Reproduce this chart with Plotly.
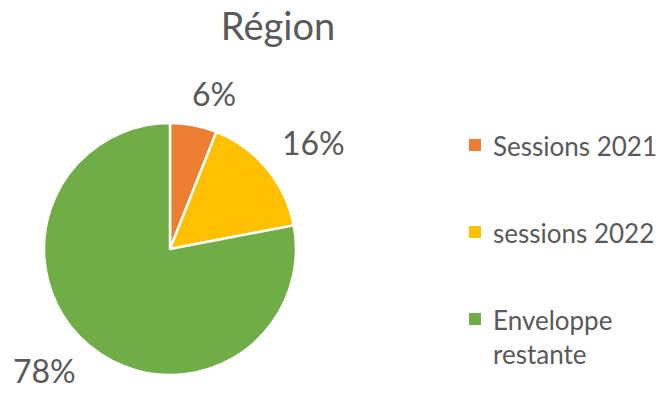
import math
import plotly.graph_objects as go

# Budget consumption per category
categories = ["Sessions 2021", "sessions 2022", "Enveloppe restante"]
values = [6, 16, 78]
colors = ["#ED7D31", "#FFC000", "#70AD47"]
legend_text = ["Sessions 2021", "sessions 2022", "Enveloppe<br>restante"]

W, H = 659, 393
FONT = "Lato"
GREY = "#595959"

# pie placement (pixels)
cx, cy, R = 170, 249, 126
dom_x = [(cx - R) / W, (cx + R) / W]
dom_y = [1 - (cy + R) / H, 1 - (cy - R) / H]

fig = go.Figure(
    go.Pie(
        labels=categories,
        values=values,
        sort=False,
        direction="clockwise",
        rotation=0,
        marker=dict(colors=colors, line=dict(color="white", width=2.5)),
        textinfo="none",
        hoverinfo="label+percent",
        domain=dict(x=dom_x, y=dom_y),
        showlegend=False,
    )
)

annotations = []
total = sum(values)
cum = 0
# percentage labels placed outside each slice along its mid-angle
offsets = [(1.28, 5), (1.42, 3), (1.41, 5.2)]
for v, (k, dang) in zip(values, offsets):
    mid = (cum + v / 2) / total * 360 + dang
    cum += v
    a = math.radians(mid)
    px = cx + R * k * math.sin(a)
    py = cy - R * k * math.cos(a)
    # keep the label box inside the page
    yp = max(1 - py / H, 0.058)
    annotations.append(
        dict(
            x=px / W, y=yp, xref="paper", yref="paper",
            text=f"{round(v / total * 100)}%", showarrow=False,
            xanchor="center", yanchor="middle",
            font=dict(family=FONT, size=32, color=GREY),
        )
    )

# legend drawn as squares + text
legend_y = [145, 232, 319]
shapes = []
for c, t, ly in zip(colors, legend_text, legend_y):
    shapes.append(
        dict(
            type="rect", xref="paper", yref="paper",
            x0=469 / W, x1=481 / W, y0=1 - (ly + 6) / H, y1=1 - (ly - 6) / H,
            fillcolor=c, line=dict(width=0),
        )
    )
    annotations.append(
        dict(
            x=491 / W, y=1 - (ly - 17) / H, xref="paper", yref="paper",
            text=t, showarrow=False, xanchor="left", yanchor="top", align="left",
            font=dict(family=FONT, size=26, color=GREY),
        )
    )

fig.update_layout(
    width=W, height=H,
    margin=dict(l=0, r=0, t=0, b=0),
    paper_bgcolor="white",
    plot_bgcolor="white",
    title=dict(
        text="Région", x=278 / W, xanchor="center", y=1 - 27 / H, yanchor="middle",
        font=dict(family=FONT, size=38, color=GREY),
    ),
    annotations=annotations,
    shapes=shapes,
)

fig.write_html("out.html")
